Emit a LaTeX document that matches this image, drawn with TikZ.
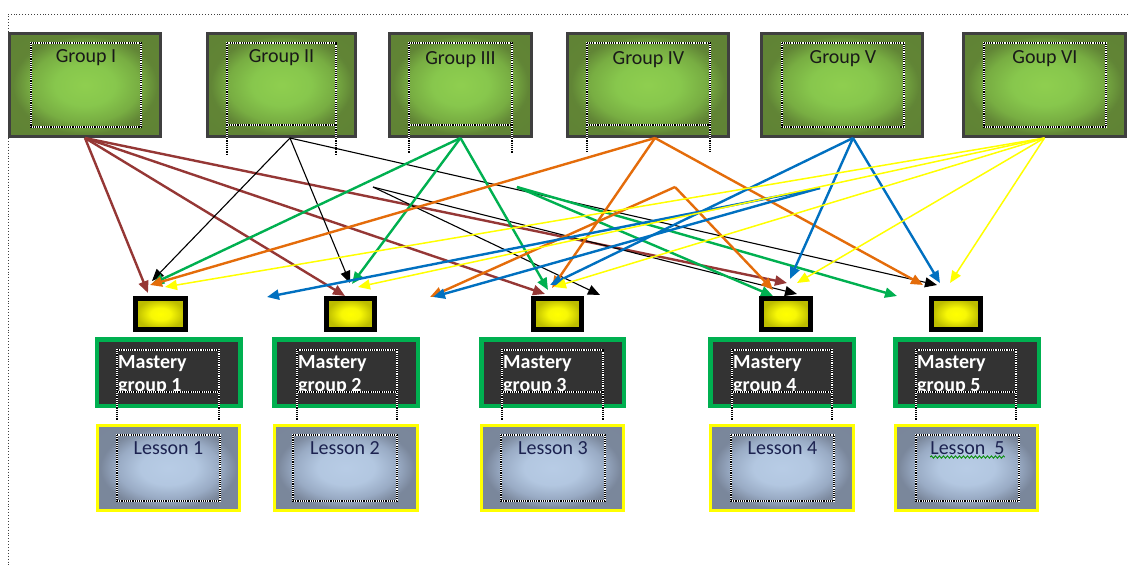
\documentclass[tikz,border=0pt]{standalone}
\usepackage{fontspec}
\setmainfont{Carlito}
\usetikzlibrary{arrows.meta,decorations.pathmorphing}

\definecolor{grpedge}{HTML}{3F3F3F}
\definecolor{redarr}{HTML}{953735}
\definecolor{grnarr}{HTML}{00B050}
\definecolor{orgarr}{HTML}{E46C0A}
\definecolor{bluarr}{HTML}{0070C0}
\definecolor{yelarr}{HTML}{FFFF00}
\definecolor{lessontext}{HTML}{1C2250}
\definecolor{mastfill}{HTML}{333333}

% the box edges sit at 25bp of these radial shadings
\pgfdeclareradialshading{grpshade}{\pgfpoint{0bp}{0bp}}{rgb(0bp)=(0.56,0.81,0.31); rgb(10bp)=(0.53,0.78,0.30); rgb(18bp)=(0.47,0.68,0.26); rgb(24bp)=(0.38,0.52,0.21); rgb(50bp)=(0.37,0.50,0.20)}
\pgfdeclareradialshading{yelshade}{\pgfpoint{0bp}{0bp}}{rgb(0bp)=(1,1,0); rgb(10bp)=(0.97,0.97,0.02); rgb(24bp)=(0.74,0.74,0); rgb(50bp)=(0.72,0.72,0)}
\pgfdeclareradialshading{lesshade}{\pgfpoint{0bp}{0bp}}{rgb(0bp)=(0.72,0.80,0.90); rgb(10bp)=(0.70,0.78,0.88); rgb(18bp)=(0.60,0.67,0.77); rgb(24bp)=(0.48,0.53,0.61); rgb(50bp)=(0.47,0.52,0.60)}

\tikzset{
  grpbox/.style={draw=grpedge, line width=3pt, shade, shading=grpshade, minimum height=103pt, inner sep=0pt},
  pickbox/.style={draw=black, line width=5pt, shade, shading=yelshade, minimum width=50pt, minimum height=31pt, inner sep=0pt},
  mastbox/.style={draw=grnarr, line width=4.5pt, fill=mastfill, minimum width=143.5pt, minimum height=66.5pt, inner sep=0pt},
  lessbox/.style={draw=yelarr, line width=3pt, shade, shading=lesshade, minimum height=85pt, inner sep=0pt},
  txtframe/.style={draw=white, line width=1.1pt, postaction={draw=black, line width=1.1pt, dash pattern=on 1.1pt off 1.1pt}},
  grplabel/.style={font=\fontsize{20}{24}\selectfont, text=black!90, inner sep=0pt, anchor=base},
  mastlabel/.style={font=\fontsize{20}{24}\selectfont\bfseries, text=white, inner sep=0pt, anchor=base west},
  lesslabel/.style={font=\fontsize{20}{24}\selectfont, text=lessontext, inner sep=0pt, anchor=base},
  arr/.style={-{Triangle[length=12pt,width=10pt]}},
  redline/.style={arr, draw=redarr, line width=2.4pt},
  blkline/.style={arr, draw=black, line width=1.1pt},
  grnline/.style={arr, draw=grnarr, line width=2.4pt},
  orgline/.style={arr, draw=orgarr, line width=2.4pt},
  bluline/.style={arr, draw=bluarr, line width=2.4pt},
  yelline/.style={arr, draw=yelarr, line width=1.5pt},
}

\begin{document}
\begin{tikzpicture}[x=1pt, y=-1pt]
\useasboundingbox (0,0) rectangle (1128,566);
\fill[white] (0,0) rectangle (1128,566);

% page margin guide
\draw[black!75, dotted, line width=0.9pt] (1128,14) -- (8,14) -- (8,566);

% group boxes
\node[grpbox, minimum width=151pt] (g1) at (85,85) {};
\node[grpbox, minimum width=148pt] (g2) at (281.5,85) {};
\node[grpbox, minimum width=142pt] (g3) at (460.5,85) {};
\node[grpbox, minimum width=161pt] (g4) at (648,85) {};
\node[grpbox, minimum width=161pt] (g5) at (842,85) {};
\node[grpbox, minimum width=162pt] (g6) at (1044.5,85) {};

% text frames of the group boxes
\draw[txtframe] (31,43) rectangle (141,127);
\draw[txtframe] (227,43) rectangle (336,125);
\draw[txtframe] (227,125) -- (227,155);
\draw[txtframe] (336,125) -- (336,155);
\draw[txtframe] (409,43) rectangle (512,125);
\draw[txtframe] (409,125) -- (409,153);
\draw[txtframe] (512,125) -- (512,153);
\draw[txtframe] (587,43) rectangle (710,125);
\draw[txtframe] (587,125) -- (587,152);
\draw[txtframe] (710,125) -- (710,152);
\draw[txtframe] (782,43) rectangle (904,127);
\draw[txtframe] (984,43) rectangle (1106,127);

\node[grplabel] (g1t) at (86,62) {Group I};
\node[grplabel] (g2t) at (281.5,62) {Group II};
\node[grplabel] (g3t) at (460.5,64) {Group III};
\node[grplabel] (g4t) at (648.5,64) {Group IV};
\node[grplabel] (g5t) at (843,63) {Group V};
\node[grplabel] (g6t) at (1045,63) {Goup VI};

% small yellow markers
\node[pickbox] (y1) at (160.5,314) {};
\node[pickbox, minimum width=48pt] (y2) at (350.5,314) {};
\node[pickbox, minimum width=48pt] (y3) at (557.5,314) {};
\node[pickbox, minimum width=49pt] (y4) at (786,314) {};
\node[pickbox, minimum width=49pt] (y5) at (956,314) {};

% mastery groups
\node[mastbox] (m1) at (168.5,372.5) {};
\node[mastbox] (m2) at (346,372.5) {};
\node[mastbox, minimum width=142.5pt] (m3) at (552.5,372.5) {};
\node[mastbox] (m4) at (782,372.5) {};
\node[mastbox] (m5) at (967,372.5) {};

\foreach \l/\r/\n in {117/219/1, 297/397/2, 502/603/3, 732/832/4, 916/1016/5}{
  \begin{scope}
    \clip (\l,350) rectangle (\r,392);
    \node[mastlabel] (mt\n a) at (\l+1,368) {Mastery};
    \node[mastlabel] (mt\n b) at (\l+1,391) {group \n};
  \end{scope}
  \draw[txtframe] (\l,350) rectangle (\r,392);
  \draw[txtframe] (\l,392) -- (\l,420);
  \draw[txtframe] (\r,392) -- (\r,420);
}

% lessons
\node[lessbox, minimum width=142pt] (l1) at (168.5,468) {};
\node[lessbox, minimum width=143pt] (l2) at (346,468) {};
\node[lessbox, minimum width=142pt] (l3) at (552.5,468) {};
\node[lessbox, minimum width=143pt] (l4) at (782,468) {};
\node[lessbox, minimum width=142pt] (l5) at (966.5,468) {};

\draw[txtframe] (117,435) rectangle (220,501);
\draw[txtframe] (293,435) rectangle (397,501);
\draw[txtframe] (501,435) rectangle (605,501);
\draw[txtframe] (731,435) rectangle (834,501);
\draw[txtframe] (916,435) rectangle (1019,501);

\node[lesslabel] (lt1) at (168.5,454) {Lesson 1};
\node[lesslabel] (lt2) at (345,454) {Lesson 2};
\node[lesslabel] (lt3) at (553,454) {Lesson 3};
\node[lesslabel] (lt4) at (782.5,454) {Lesson 4};
\node[lesslabel] (lt5) at (967.5,454) {Lesson~ 5};
\draw[green!55!black, line width=0.8pt, decorate, decoration={snake, amplitude=1.2pt, segment length=4pt}]
  ([yshift=-3pt]lt5.base west) -- ([yshift=-3pt]lt5.base east);

% free starting points of the loose connectors
\coordinate (fa) at (373,187);
\coordinate (fb) at (517,187);
\coordinate (fc) at (675,187);
\coordinate (fd) at (820,188);

% Group I
\draw[redline] (g1.south) -- ([shift={(-12.5,-3)}]y1.north);
\draw[redline] (g1.south) -- ([shift={(-5.5,0)}]y2.north);
\draw[redline] (g1.south) -- ([shift={(-12.5,-2)}]y3.north);
\draw[redline] (g1.south) -- ([shift={(1,-13)}]y4.north);

% Group II
\draw[blkline] ([xshift=8.5pt]g2.south) -- ([shift={(-8.5,-15)}]y1.north);
\draw[blkline] ([xshift=8.5pt]g2.south) -- ([shift={(-0.5,-13)}]y2.north);
\draw[blkline] ([xshift=8.5pt]g2.south) -- ([shift={(-19,-11)}]y5.north);
\draw[blkline] (fa) -- ([shift={(42.5,-1)}]y3.north);
\draw[blkline] (fa) -- ([shift={(11,-2)}]y4.north);

% Group III
\draw[grnline] (g3.south) -- ([shift={(-8.5,-12)}]y1.north);
\draw[grnline] (g3.south) -- ([shift={(1.5,-12)}]y2.north);
\draw[grnline] (g3.south) -- ([shift={(-9.5,-6)}]y3.north);
\draw[grnline] (fb) -- ([shift={(-13,0)}]y4.north);
\draw[grnline] (fb) -- ([shift={(-59,0)}]y5.north);

% Group IV
\draw[orgline] ([xshift=7pt]g4.south) -- ([shift={(-10.5,-11)}]y1.north);
\draw[orgline] ([xshift=7pt]g4.south) -- ([shift={(-5.5,-8)}]y3.north);
\draw[orgline] ([xshift=7pt]g4.south) -- ([shift={(-33,-11)}]y5.north);
\draw[orgline] (fc) -- ([shift={(79.5,1)}]y2.north);
\draw[orgline] (fc) -- ([shift={(-13,-6)}]y4.north);

% Group V
\draw[bluline] ([xshift=11pt]g5.south) -- ([shift={(-7.5,-11)}]y3.north);
\draw[bluline] ([xshift=11pt]g5.south) -- ([shift={(4,-17)}]y4.north);
\draw[bluline] ([xshift=11pt]g5.south) -- ([shift={(-16,-13)}]y5.north);
\draw[bluline] (fd) -- ([shift={(-83.5,1)}]y2.north);
\draw[bluline] (fd) -- ([shift={(82.5,1)}]y2.north);

% Goup VI
\draw[yelline] (g6.south) -- ([shift={(4.5,-9)}]y1.north);
\draw[yelline] (g6.south) -- ([shift={(7.5,-9)}]y2.north);
\draw[yelline] (g6.south) -- ([shift={(-3.5,-9)}]y3.north);
\draw[yelline] (g6.south) -- ([shift={(11,-13)}]y4.north);
\draw[yelline] (g6.south) -- ([shift={(-6,-13)}]y5.north);
\end{tikzpicture}
\end{document}
